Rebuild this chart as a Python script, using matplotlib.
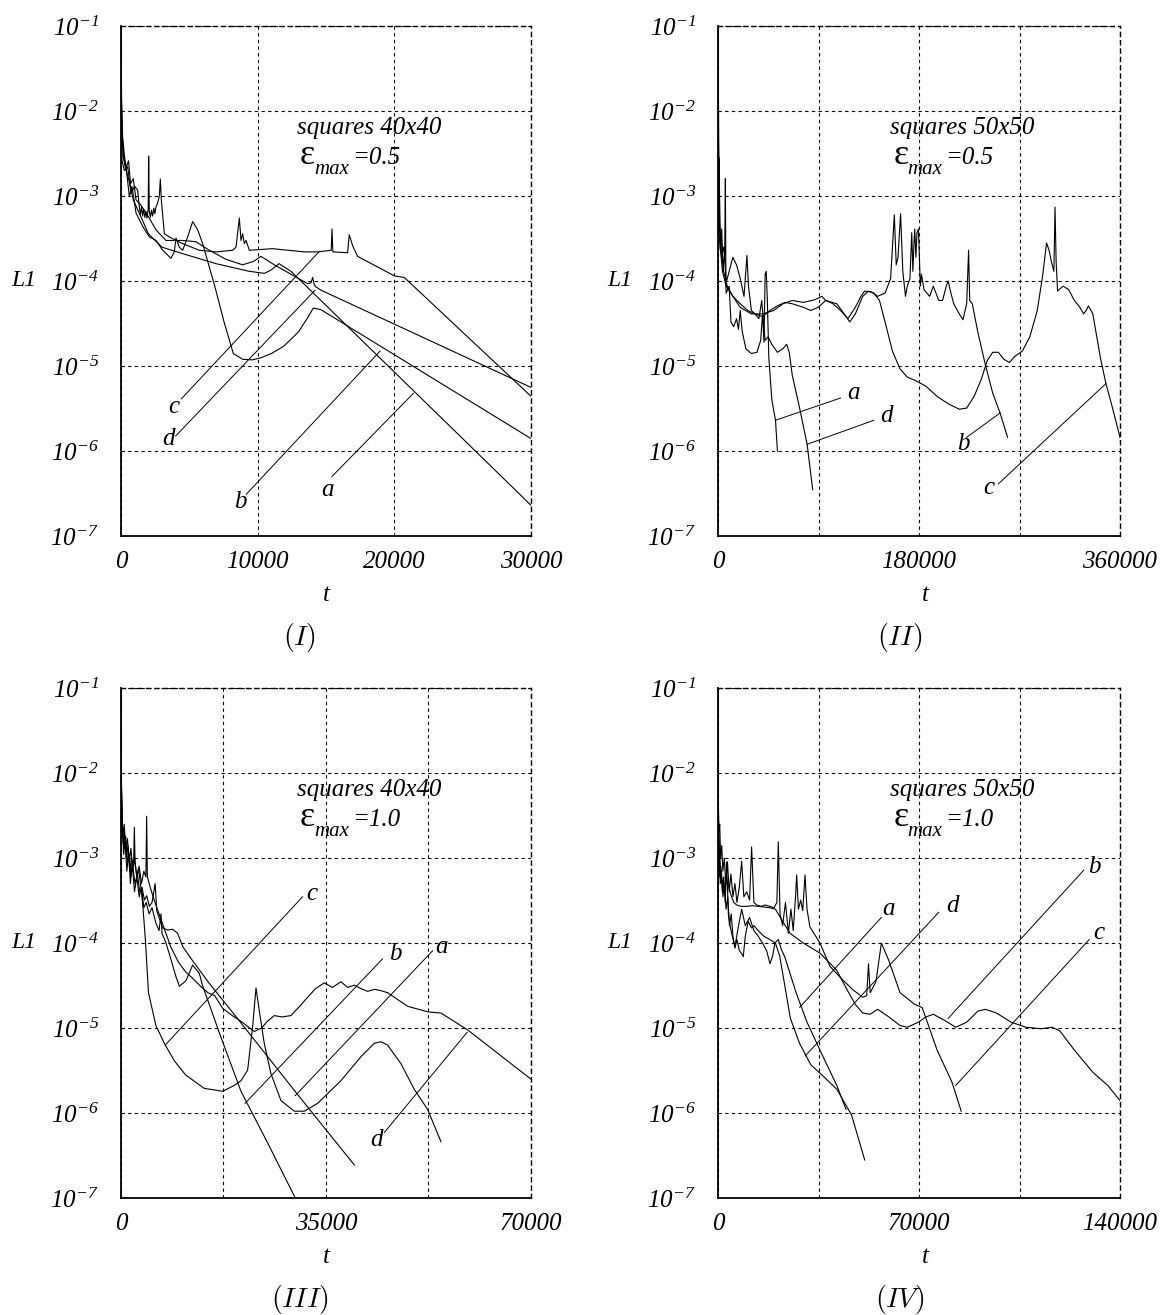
import matplotlib
matplotlib.use("Agg")
import matplotlib.pyplot as plt
from matplotlib.ticker import NullLocator

plt.rcParams["font.family"] = ["Liberation Serif", "DejaVu Serif"]
plt.rcParams["mathtext.fontset"] = "custom"
# all math text in the tick labels is italic (digits too)
plt.rcParams["mathtext.rm"] = "Liberation Serif:italic"
plt.rcParams["mathtext.it"] = "Liberation Serif:italic"

W, H = 1170, 1315

# ---- data: (t, L1) pairs per curve ----
# (I) squares 40x40, eps_max = 0.5
I_a = [(0, 1e-1), (50, 8e-3), (150, 3e-3), (300, 2.2e-3), (450, 1.8e-3), (600, 1.5e-3),
       (900, 9e-4), (1200, 7e-4), (1500, 5.5e-4), (2000, 3.6e-4), (3000, 2.5e-4),
       (4500, 2.1e-4), (6950, 1.6e-4), (9390, 1.3e-4), (10500, 1.23e-4), (11000, 1.35e-4),
       (11560, 1.6e-4), (12440, 1.3e-4), (30000, 2.3e-7)]
I_b = [(0, 1e-1), (40, 1.2e-2), (120, 5e-3), (250, 3e-3), (400, 2e-3), (610, 9.8e-4),
       (800, 1.3e-3), (1100, 6.3e-4), (1585, 4.4e-4), (2073, 3.3e-4), (2561, 3e-4),
       (3049, 2.3e-4), (3659, 1.85e-4), (3900, 2.2e-4), (4024, 3.2e-4), (4268, 2.5e-4),
       (4512, 2.3e-4), (4878, 3.3e-4), (5244, 5e-4), (5610, 4e-4), (5976, 2.75e-4),
       (6860, 8.7e-5), (7540, 3.3e-5), (8220, 1.4e-5), (8900, 1.2e-5), (9600, 1.18e-5),
       (10240, 1.25e-5), (11000, 1.4e-5), (11890, 1.7e-5), (12970, 2.5e-5), (13660, 3.7e-5),
       (14070, 4.8e-5), (14630, 4.6e-5), (30000, 1.4e-6)]
I_c = [(0, 1e-1), (30, 1.5e-2), (73, 2.6e-3), (244, 2.0e-3), (488, 2.2e-3), (732, 1.07e-3),
       (1000, 1.3e-3), (1220, 1.17e-3), (1342, 7.4e-4), (1420, 6.0e-4), (1500, 7.5e-4),
       (1585, 5.8e-4), (1660, 7.0e-4), (1750, 5.6e-4), (1830, 6.6e-4), (1900, 5.5e-4),
       (1990, 7e-4), (2025, 2.95e-3), (2070, 6.6e-4), (2150, 5.6e-4), (2230, 6.8e-4),
       (2317, 5.8e-4), (2400, 7.2e-4), (2480, 6.2e-4), (2561, 7.5e-4), (2650, 8e-4),
       (2740, 9e-4), (2805, 1.0e-3), (2878, 1.58e-3), (2950, 9e-4), (3049, 6e-4),
       (3171, 3.6e-4), (3537, 3.3e-4), (4512, 2.75e-4), (5732, 2.3e-4), (6951, 2.2e-4),
       (8171, 2.3e-4), (8415, 2.5e-4), (8659, 5.5e-4), (8781, 3.0e-4), (8903, 3.6e-4),
       (9025, 2.75e-4), (9147, 3.0e-4), (9391, 2.3e-4), (11100, 2.4e-4), (13415, 2.2e-4),
       (14390, 2.2e-4), (15380, 2.3e-4), (15440, 4.1e-4), (15500, 2.2e-4), (16580, 2.15e-4),
       (16700, 3.5e-4), (16950, 2.6e-4), (17310, 1.95e-4), (20000, 1.15e-4),
       (20730, 1.1e-4), (30000, 4.4e-6)]
I_d = [(0, 1e-1), (40, 1e-2), (120, 4e-3), (250, 2.6e-3), (400, 2.2e-3), (550, 2.6e-3),
       (700, 1.4e-3), (900, 1.6e-3), (1100, 9e-4), (1400, 8e-4), (1850, 6.3e-4),
       (2560, 4e-4), (3290, 3e-4), (4510, 3e-4), (5480, 2.9e-4), (6460, 2.3e-4),
       (7680, 1.8e-4), (8900, 1.55e-4), (9700, 1.7e-4), (10240, 1.95e-4), (11220, 1.55e-4),
       (12440, 1.2e-4), (13660, 9.3e-5), (13900, 9.5e-5), (14020, 1.1e-4), (14150, 9e-5),
       (14270, 8.5e-5), (14630, 7.8e-5), (30000, 5.6e-6)]

# (II) squares 50x50, eps_max = 0.5
II_a = [(0, 1e-1), (330, 1.6e-3), (1000, 2.8e-3), (2000, 2.3e-4), (3300, 4.1e-4),
        (4650, 1.3e-4), (6000, 2.3e-4), (7300, 7.2e-5), (10000, 8.7e-5), (11600, 3.3e-5),
        (14000, 2.9e-5), (16600, 3.6e-5), (18300, 2.7e-5), (19900, 4.5e-5), (21600, 2.6e-5),
        (24900, 1.6e-5), (29900, 1.4e-5), (34900, 1.45e-5), (38200, 2.0e-5), (39900, 4.1e-5),
        (41200, 1.9e-5), (42200, 1.2e-4), (43200, 1.3e-4), (44200, 5.9e-5), (45500, 1.26e-5),
        (48200, 4e-6), (51500, 2.3e-6), (53200, 1.0e-6)]
II_b = [(0, 1e-1), (660, 6e-4), (2000, 3.7e-4), (3300, 2.3e-4), (5000, 1.3e-4), (8300, 8.7e-5),
        (13300, 6.6e-5), (19900, 4.9e-5), (29900, 4.1e-5), (39900, 4.1e-5), (49900, 4.5e-5),
        (58200, 5.4e-5), (66500, 5.9e-5), (76500, 5.6e-5), (86400, 6e-5), (93100, 6.6e-5),
        (96400, 5.9e-5), (103000, 5.4e-5), (109700, 4.5e-5), (116300, 3.6e-5),
        (123000, 4.9e-5), (128000, 6.6e-5), (131300, 7.6e-5), (137900, 7.4e-5),
        (142900, 6.6e-5), (149600, 7.2e-5), (154600, 1.07e-4), (157900, 6e-4),
        (159600, 1.55e-4), (161200, 1.9e-4), (163500, 6.2e-4), (165500, 1.3e-4),
        (167900, 6.6e-5), (169500, 8.7e-5), (171900, 1.07e-4), (173500, 3.7e-4),
        (174500, 1.3e-4), (175500, 2.8e-4), (176200, 4.1e-4), (177200, 1.9e-4),
        (178200, 3.7e-4), (179500, 4.1e-4), (181200, 8.7e-5), (182200, 1.2e-4),
        (184500, 7.9e-5), (189500, 6.6e-5), (192800, 8.7e-5), (194500, 7.6e-5),
        (197800, 5.9e-5), (201100, 5.9e-5), (204400, 8.7e-5), (206100, 1e-4),
        (207800, 7.9e-5), (211100, 5.4e-5), (216100, 4.1e-5), (219400, 3.5e-5),
        (222700, 5.4e-5), (224400, 2.3e-4), (225400, 5.9e-5), (227700, 5.4e-5),
        (232700, 2.5e-5), (239300, 1.05e-5), (246000, 4.8e-6), (252600, 2.8e-6),
        (259300, 1.45e-6)]
II_c = [(0, 1e-1), (660, 3.7e-4), (2000, 2.5e-4), (4000, 1.3e-4), (7300, 8.7e-5),
        (13300, 6.6e-5), (19900, 5.4e-5), (26600, 4.5e-5), (33200, 4.1e-5), (39900, 3.8e-5),
        (46500, 4.5e-5), (53200, 5.1e-5), (59800, 5.6e-5), (66500, 5.4e-5), (76500, 4.9e-5),
        (83100, 4.5e-5), (89700, 4.9e-5), (96400, 5.9e-5), (106400, 5.4e-5), (113000, 4.1e-5),
        (118000, 3.3e-5), (123000, 4.1e-5), (129600, 6.6e-5), (134600, 7.6e-5),
        (139600, 7.2e-5), (144600, 5.9e-5), (149600, 3.3e-5), (156200, 1.5e-5),
        (162900, 9.3e-6), (169500, 7.4e-6), (176200, 6.8e-6), (186100, 5.8e-6),
        (196100, 4.4e-6), (206100, 3.6e-6), (216100, 3.1e-6), (222700, 3.2e-6),
        (229400, 4.4e-6), (236000, 7.1e-6), (241000, 1.15e-5), (246000, 1.45e-5),
        (251000, 1.45e-5), (256000, 1.2e-5), (260900, 1.1e-5), (265900, 1.3e-5),
        (272600, 1.5e-5), (279200, 2.2e-5), (285900, 4.5e-5), (290900, 1.2e-4),
        (294200, 2.8e-4), (296500, 2.3e-4), (298500, 1.7e-4), (300800, 1.3e-4),
        (301800, 7.4e-4), (302800, 1.7e-4), (304100, 7.6e-5), (305800, 8e-5),
        (309100, 8.7e-5), (314100, 7.9e-5), (319100, 5.9e-5), (324100, 4.9e-5),
        (327400, 4.1e-5), (329700, 4.5e-5), (331700, 5.1e-5), (335700, 4.1e-5),
        (342400, 1.26e-5), (347400, 6.2e-6), (352300, 3.6e-6), (360000, 1.45e-6)]
II_d = [(0, 1e-1), (660, 4.2e-3), (1660, 3.7e-4), (3300, 1.9e-4), (5000, 2.5e-4), (6000, 2e-4),
        (6600, 1.6e-3), (7000, 1.5e-4), (7300, 9.5e-5), (10000, 1.3e-4), (13300, 1.9e-4),
        (16600, 1.55e-4), (19900, 1.07e-4), (23300, 6.6e-5), (25900, 2.0e-4), (27300, 8.7e-5),
        (29900, 4.5e-5), (33200, 4.1e-5), (36600, 3.6e-5), (39200, 5.9e-5), (40600, 3.3e-5),
        (42200, 2.0e-5), (44900, 2.2e-5), (48200, 1.8e-5), (53200, 1.45e-5), (58200, 1.6e-5),
        (61500, 1.8e-5), (63800, 1.45e-5), (66500, 7.8e-6), (73100, 3.2e-6), (79800, 1.2e-6),
        (84800, 3.5e-7)]

# (III) squares 40x40, eps_max = 1.0
III_a = [(0, 1e-1), (80, 6e-3), (250, 2.4e-3), (500, 1.3e-3), (800, 1.8e-3), (1100, 9e-4),
         (1400, 1.1e-3), (1700, 6e-4), (2000, 8e-4), (2400, 5e-4), (2800, 6.5e-4), (3200, 4e-4),
         (3600, 4.5e-4), (4000, 3.2e-4), (4400, 3.6e-4), (4840, 2.7e-4), (5300, 3e-4),
         (5830, 5e-4), (6100, 2.4e-4), (6500, 2.0e-4), (7110, 1.5e-4), (8000, 1.42e-4),
         (8820, 1.45e-4), (9670, 1.3e-4), (10530, 9.1e-5), (12000, 6.5e-5), (15000, 3.4e-5),
         (20260, 1.2e-5), (30000, 1.7e-6), (39830, 2.45e-7)]
III_b = [(0, 1e-1), (60, 8e-3), (200, 3e-3), (450, 1.1e-3), (700, 1.6e-3), (1000, 7e-4),
         (1300, 1.2e-3), (1600, 5e-4), (1900, 9e-4), (2300, 4e-4), (2700, 6e-4), (3100, 3.5e-4),
         (3500, 4.5e-4), (3900, 2.6e-4), (4300, 3e-4), (4800, 2.2e-4), (5300, 2.6e-4),
         (5970, 1.7e-4), (6500, 1.4e-4), (6830, 2.2e-4), (7000, 1.3e-4), (7680, 1e-4),
         (8500, 6.5e-5), (9390, 4e-5), (9960, 3.1e-5), (11100, 3.6e-5), (12230, 5.5e-5),
         (13370, 4.4e-5), (13890, 3.2e-5), (17000, 8e-6), (20480, 1.8e-6), (25000, 4.5e-7),
         (29600, 1.05e-7), (30500, 8e-8)]
III_c = [(0, 1e-1), (50, 1e-2), (150, 3e-3), (350, 1.5e-3), (600, 2e-3), (900, 1e-3),
         (1200, 1.4e-3), (1500, 7e-4), (1800, 1e-3), (2150, 8e-4), (2280, 2.3e-3), (2400, 9e-4),
         (2700, 6e-4), (3000, 7.5e-4), (3400, 4.5e-4), (3700, 2.9e-4), (4160, 1.1e-4),
         (4690, 2.6e-5), (5960, 1.07e-5), (7550, 6.3e-6), (9130, 4.1e-6), (11030, 2.8e-6),
         (14200, 1.95e-6), (17370, 1.8e-6), (19280, 2.1e-6), (20480, 2.4e-6), (21620, 3.2e-6),
         (22480, 1.05e-5), (23050, 2.95e-5), (23610, 1.6e-5), (24460, 6.6e-6), (25600, 2.9e-6),
         (27310, 1.4e-6), (29590, 1.05e-6), (31300, 1.05e-6), (33570, 1.3e-6), (37550, 2.4e-6),
         (40970, 4.6e-6), (43240, 6.6e-6), (44380, 6.9e-6), (45520, 6.3e-6), (47800, 3.8e-6),
         (50070, 1.9e-6), (52350, 1.1e-6), (54620, 4.6e-7)]
III_d = [(0, 1e-1), (40, 1.2e-2), (120, 4e-3), (300, 1.8e-3), (550, 2.5e-3), (800, 1.2e-3),
         (1100, 1.7e-3), (1400, 9e-4), (1700, 1.3e-3), (2000, 7e-4), (2300, 1e-3), (2700, 6e-4),
         (3100, 8e-4), (3500, 5e-4), (3900, 7e-4), (4250, 6e-4), (4380, 3.1e-3), (4500, 6e-4),
         (5000, 4.5e-4), (5600, 3.3e-4), (6500, 2.2e-4), (7500, 1.4e-4), (8500, 9e-5),
         (9770, 6e-5), (11000, 4.6e-5), (12300, 3.8e-5), (13570, 3.1e-5), (14840, 2.6e-5),
         (16000, 2.4e-5), (17370, 1.7e-5), (19000, 1.4e-5), (20480, 1.2e-5), (22760, 9.1e-6),
         (24000, 1.0e-5), (25000, 1.2e-5), (26170, 1.4e-5), (27500, 1.35e-5), (29020, 1.4e-5),
         (30500, 1.8e-5), (31870, 2.3e-5), (33200, 2.9e-5), (34710, 3.4e-5), (36100, 3.0e-5),
         (37550, 3.5e-5), (38700, 3.0e-5), (39830, 3.2e-5), (41000, 2.9e-5), (42100, 2.7e-5),
         (43300, 2.85e-5), (44380, 2.75e-5), (45520, 2.6e-5), (48940, 1.8e-5),
         (52350, 1.55e-5), (54620, 1.5e-5), (59180, 9.5e-6), (70000, 2.5e-6)]

# (IV) squares 50x50, eps_max = 1.0
IV_a = [(0, 1e-1), (100, 3e-3), (300, 1.2e-3), (600, 6e-4), (1000, 8e-4), (1500, 4e-4),
        (2000, 6e-4), (2500, 3e-4), (3000, 9e-4), (3600, 2.2e-4), (4200, 1.6e-4),
        (5000, 1.2e-4), (5900, 9e-5), (7000, 1.5e-4), (8250, 2.5e-4), (9500, 1.6e-4),
        (11000, 2e-4), (12500, 1.4e-4), (14000, 1.2e-4), (15500, 1.0e-4), (17000, 8e-5),
        (18100, 5.7e-5), (19000, 7e-5), (19850, 1e-4), (21000, 1.1e-4), (22000, 8.5e-5),
        (23300, 6.8e-5), (27200, 2.6e-5), (31000, 1.17e-5), (36200, 4.9e-6),
        (41400, 2.1e-6), (44600, 1.1e-6)]
IV_b = [(0, 1e-1), (60, 6e-3), (200, 2.5e-3), (450, 1.4e-3), (800, 8e-4), (1200, 6e-4),
        (1700, 5e-4), (2300, 4e-4), (3000, 5.5e-4), (3800, 4.5e-4), (4600, 3.6e-4),
        (5500, 3e-4), (6500, 2.8e-4), (8000, 2.7e-4), (10000, 2.7e-4), (12000, 2.75e-4),
        (14000, 2.7e-4), (16000, 2.65e-4), (18000, 2.6e-4), (20000, 2.5e-4), (22500, 1.8e-4),
        (25100, 1.3e-4), (29700, 1e-4), (35500, 7.6e-5), (41300, 4.8e-5), (45000, 2.8e-5),
        (47800, 1.9e-5), (50400, 1.5e-5), (53000, 1.45e-5), (55600, 1.66e-5),
        (59500, 1.35e-5), (63400, 1.07e-5), (65900, 1.02e-5), (69800, 1.17e-5),
        (72400, 1.35e-5), (75000, 1.45e-5), (78900, 1.23e-5), (82800, 1.02e-5),
        (86600, 1.17e-5), (90500, 1.58e-5), (93100, 1.66e-5), (97000, 1.5e-5),
        (102100, 1.17e-5), (107300, 1.02e-5), (112500, 9.8e-6), (116400, 1.02e-5),
        (119000, 9.3e-6), (124100, 5.5e-6), (130600, 3.0e-6), (135800, 2.1e-6),
        (140000, 1.4e-6)]
IV_c = [(0, 1e-1), (50, 1e-2), (150, 4e-3), (350, 2e-3), (600, 2.5e-3), (900, 1e-3),
        (1300, 1.4e-3), (1700, 7e-4), (2200, 1e-3), (2700, 5e-4), (3300, 9e-4), (3900, 4e-4),
        (4500, 6.5e-4), (5200, 3.5e-4), (5900, 5e-4), (6600, 3e-4), (7400, 4.5e-4),
        (8250, 9.1e-4), (9000, 3.5e-4), (10000, 4e-4), (11000, 3.2e-4), (11700, 1.35e-3),
        (12500, 3e-4), (13500, 2.8e-4), (15000, 2.7e-4), (16500, 2.8e-4), (18000, 2.7e-4),
        (19500, 2.6e-4), (20500, 3e-4), (21000, 1.55e-3), (21600, 2.2e-4), (22500, 1.6e-4),
        (23500, 3e-4), (24500, 1.3e-4), (25400, 2.5e-4), (26200, 1.4e-4), (27000, 3.5e-4),
        (27400, 6.3e-4), (28000, 2.5e-4), (28800, 3.2e-4), (29500, 2.4e-4), (30300, 6.3e-4),
        (31000, 2.5e-4), (32000, 1.55e-4), (35500, 1e-4), (39000, 5.3e-5), (43700, 3.6e-5),
        (47100, 2.8e-5), (50400, 2.3e-5), (51800, 2.4e-5), (52400, 5.7e-5), (53000, 2.6e-5),
        (55000, 3.5e-5), (56900, 1e-4), (59500, 6.2e-5), (63400, 2.6e-5), (68500, 1.9e-5),
        (71100, 1.74e-5), (76300, 5.5e-6), (81500, 2.3e-6), (84700, 1.05e-6)]
IV_d = [(0, 1e-1), (80, 4e-3), (250, 1.5e-3), (500, 1e-3), (800, 5e-4), (1200, 7e-4),
        (1700, 3.5e-4), (2200, 5e-4), (2800, 2.5e-4), (3400, 3.5e-4), (4000, 1.6e-4),
        (4600, 2.2e-4), (5200, 1.2e-4), (5900, 8.7e-5), (6600, 1.1e-4), (7400, 8.2e-5),
        (8250, 7.5e-5), (8800, 6.9e-5), (9500, 1.2e-4), (10500, 1.8e-4), (11700, 1.5e-4),
        (12500, 1.6e-4), (14000, 1.4e-4), (16000, 1.2e-4), (18000, 1.1e-4), (20000, 1.0e-4),
        (21500, 7e-5), (23300, 3.1e-5), (25200, 1.3e-5), (28400, 6.6e-6), (32300, 3.7e-6),
        (36200, 2.8e-6), (41400, 1.9e-6), (46500, 9.5e-7), (51100, 2.8e-7)]

# curve labels: letter, text (t, L1), leader from (t, L1) to (t, L1)
I_labels = [("c", 3870, 3.3e-6, 4410, 4.1e-6, 14480, 2.2e-4),
            ("d", 3510, 1.4e-6, 4000, 1.5e-6, 14200, 7.8e-5),
            ("b", 8760, 2.5e-7, 9170, 3.1e-7, 18960, 1.5e-5),
            ("a", 15100, 3.5e-7, 15430, 5e-7, 21410, 4.8e-6)]
II_labels = [("a", 121300, 4.8e-6, 51500, 2.3e-6, 109700, 4.2e-6),
             ("d", 151200, 2.6e-6, 79800, 1.2e-6, 139600, 2.3e-6),
             ("b", 219400, 1.2e-6, 222700, 1.45e-6, 252600, 2.8e-6),
             ("c", 242700, 3.7e-7, 251000, 4.1e-7, 347400, 6.2e-6)]
III_labels = [("c", 32600, 3.8e-4, 7550, 6.3e-6, 31000, 3.5e-4),
              ("b", 46860, 7.4e-5, 21180, 1.3e-6, 44640, 6.5e-5),
              ("a", 54790, 8.9e-5, 29740, 1.6e-6, 53200, 8.1e-5),
              ("d", 43700, 4.8e-7, 44960, 5.9e-7, 59100, 8.9e-6)]
IV_labels = [("a", 59500, 2.5e-4, 28450, 1.75e-5, 56900, 2.0e-4),
             ("d", 81500, 2.7e-4, 30390, 4.7e-6, 76900, 2.3e-4),
             ("b", 131200, 7.9e-4, 80170, 1.3e-5, 127400, 7.2e-4),
             ("c", 132500, 1.3e-4, 82750, 2.1e-6, 129300, 1.1e-4)]

decades = [1e-7, 1e-6, 1e-5, 1e-4, 1e-3, 1e-2, 1e-1]
decade_labels = [r"$10^{-%d}$" % k for k in range(7, 0, -1)]

DASH = (0, (3, 3))


def draw_panel(ax, curves, labels, xmax, xticks, xticklabels, squares, eps):
    for pts in curves:
        t, v = zip(*pts)
        ax.plot(t, v, color="black", lw=0.8, zorder=3)
    for name, tx, ty, x0, y0, x1, y1 in labels:
        ax.plot([x0, x1], [y0, y1], color="black", lw=0.7, zorder=3)
        ax.text(tx, ty, name, ha="center", va="center", fontsize=18, style="italic")

    ax.set_yscale("log")
    ax.set_xlim(0, xmax)
    ax.set_ylim(1e-7, 1e-1)
    ax.set_yticks(decades, labels=decade_labels, fontsize=18)
    ax.yaxis.set_minor_locator(NullLocator())
    ax.set_xticks(xticks, labels=xticklabels, fontsize=18, style="italic")
    ax.tick_params(length=0)
    ax.tick_params(axis="y", pad=16)
    ax.tick_params(axis="x", pad=11)
    ax.grid(True, color="black", ls=DASH, lw=0.8)
    for side in ("left", "bottom"):
        ax.spines[side].set_linewidth(1.3)
    for side in ("top", "right"):
        ax.spines[side].set_linestyle(DASH)
        ax.spines[side].set_linewidth(1.0)

    ax.text(0.429, 0.788, squares, transform=ax.transAxes, fontsize=18, style="italic")
    ax.text(0.436, 0.729, "ε", transform=ax.transAxes, fontsize=26)
    ax.text(0.471, 0.710, "max", transform=ax.transAxes, fontsize=15, style="italic")
    ax.text(0.565, 0.729, "=" + eps, transform=ax.transAxes, fontsize=18, style="italic")


fig = plt.figure(figsize=(W / 100, H / 100), dpi=100)


def add_axes(left, top, right, bottom):
    return fig.add_axes([left / W, 1 - bottom / H, (right - left) / W, (bottom - top) / H])


ax1 = add_axes(121, 26, 531, 536)
ax2 = add_axes(718, 26, 1120, 536)
ax3 = add_axes(121, 688, 531, 1198)
ax4 = add_axes(718, 688, 1120, 1198)

draw_panel(ax1, [I_a, I_b, I_c, I_d], I_labels, 30000,
           [0, 10000, 20000, 30000], ["0", "10000", "20000", "30000"],
           "squares 40x40", "0.5")
draw_panel(ax2, [II_a, II_b, II_c, II_d], II_labels, 360000,
           [0, 90000, 180000, 270000, 360000], ["0", "", "180000", "", "360000"],
           "squares 50x50", "0.5")
draw_panel(ax3, [III_a, III_b, III_c, III_d], III_labels, 70000,
           [0, 17500, 35000, 52500, 70000], ["0", "", "35000", "", "70000"],
           "squares 40x40", "1.0")
draw_panel(ax4, [IV_a, IV_b, IV_c, IV_d], IV_labels, 140000,
           [0, 35000, 70000, 105000, 140000], ["0", "", "70000", "", "140000"],
           "squares 50x50", "1.0")

# axis titles and panel numbers
for x_l1, x_t, x_num, y_l1, y_t, y_num, num in [
        (24, 326, 300, 280, 595, 637, "(I)"),
        (620, 925, 900, 280, 595, 637, "(II)"),
        (24, 326, 300, 942, 1257, 1299, "(III)"),
        (620, 925, 900, 942, 1257, 1299, "(IV)")]:
    fig.text(x_l1 / W, 1 - y_l1 / H, "L1", ha="center", va="center", fontsize=17, style="italic")
    fig.text(x_t / W, 1 - y_t / H, "t", ha="center", va="center", fontsize=18, style="italic")
    fig.text(x_num / W, 1 - y_num / H, "$" + num + "$", ha="center", va="center",
             fontsize=20, math_fontfamily="cm")

fig.savefig("out.png", dpi=100, facecolor="white")
